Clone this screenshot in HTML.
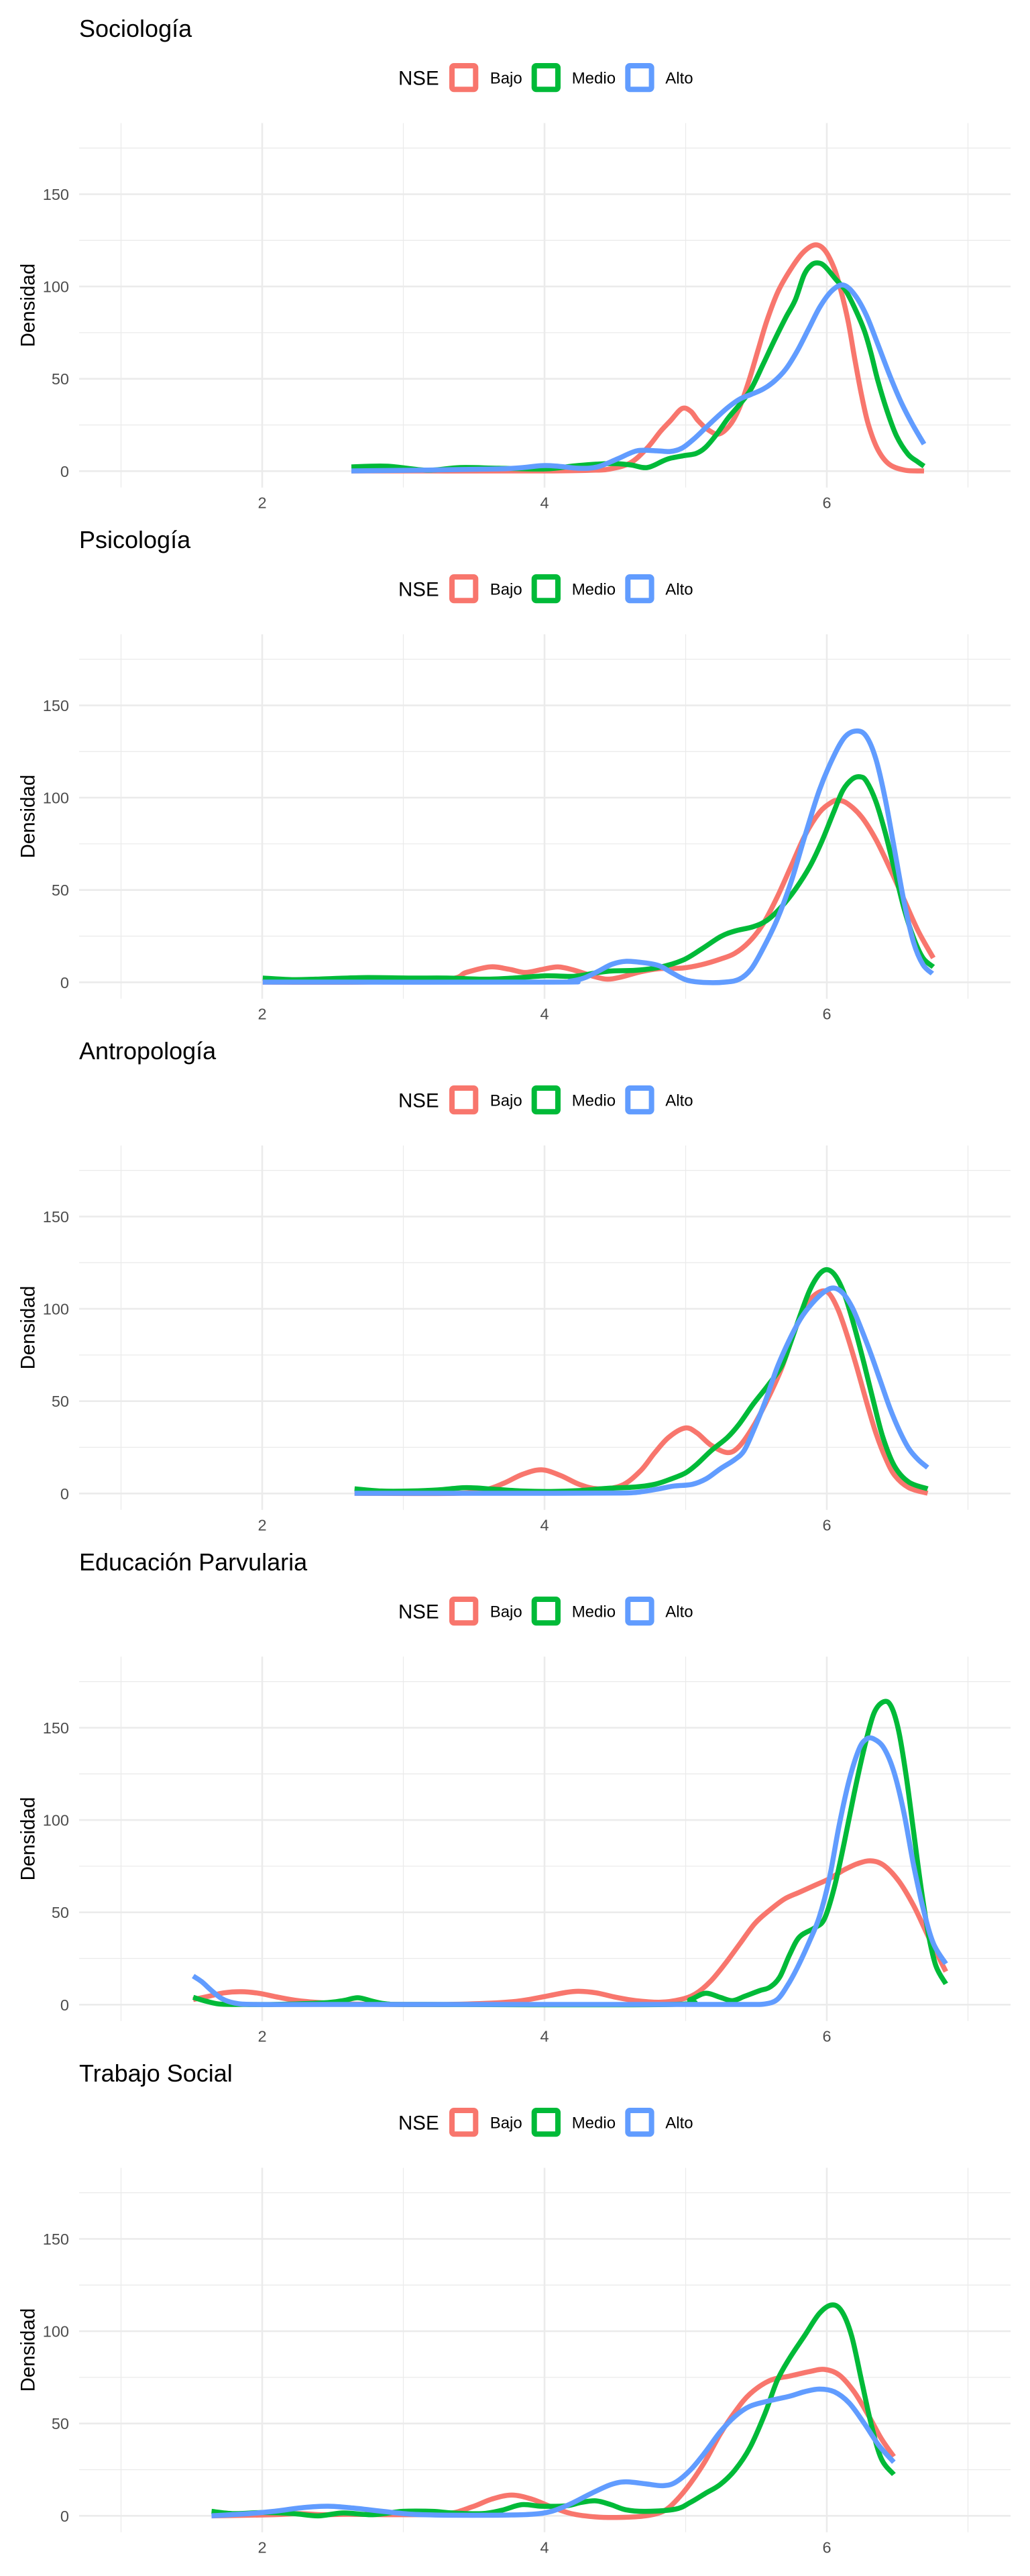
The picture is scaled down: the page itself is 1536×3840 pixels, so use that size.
<!DOCTYPE html>
<html>
<head>
<meta charset="utf-8">
<style>
html,body{margin:0;padding:0;background:#fff;}
svg{display:block;}
text{font-family:"Liberation Sans",Arial,sans-serif;}
.t{font-size:36px;fill:#000;}
.lt{font-size:29.5px;fill:#000;}
.ll{font-size:24px;fill:#000;}
.ay{font-size:23.5px;fill:#4D4D4D;text-anchor:end;}
.ax{font-size:23.5px;fill:#4D4D4D;text-anchor:middle;}
.at{font-size:29.5px;fill:#000;text-anchor:middle;}
.mn{stroke:#EBEBEB;stroke-width:1.3;}
.mj{stroke:#EBEBEB;stroke-width:2.6;}
.c{fill:none;stroke-width:7.5;stroke-linejoin:round;stroke-linecap:butt;}
.s{fill:none;stroke-width:7.5;stroke-linejoin:round;stroke-linecap:butt;vector-effect:non-scaling-stroke;}
.r{stroke:#F8766D;}
.g{stroke:#00BA38;}
.b{stroke:#619CFF;}
</style>
</head>
<body>
<svg width="1536" height="3840" viewBox="0 0 1536 3840" xmlns="http://www.w3.org/2000/svg">
<rect x="0" y="0" width="1536" height="3840" fill="#fff"/>

<!-- ============ PANEL 1 ============ -->
<g transform="translate(0,0)">
  <text class="t" x="118" y="55">Sociología</text>
  <text class="lt" x="594" y="126.5">NSE</text>
  <rect x="674" y="98" width="35.3" height="35.3" rx="3" fill="#fff" stroke="#F8766D" stroke-width="8"/>
  <text class="ll" x="730.7" y="124.3">Bajo</text>
  <rect x="796.7" y="98" width="35.3" height="35.3" rx="3" fill="#fff" stroke="#00BA38" stroke-width="8"/>
  <text class="ll" x="852.7" y="124.3">Medio</text>
  <rect x="936.3" y="98" width="35.3" height="35.3" rx="3" fill="#fff" stroke="#619CFF" stroke-width="8"/>
  <text class="ll" x="992.3" y="124.3">Alto</text>
  <line class="mn" x1="118" x2="1507" y1="633.5" y2="633.5"/>
  <line class="mn" x1="118" x2="1507" y1="495.9" y2="495.9"/>
  <line class="mn" x1="118" x2="1507" y1="358.3" y2="358.3"/>
  <line class="mn" x1="118" x2="1507" y1="220.7" y2="220.7"/>
  <line class="mn" x1="180.5" x2="180.5" y1="183.5" y2="726.7"/>
  <line class="mn" x1="601.5" x2="601.5" y1="183.5" y2="726.7"/>
  <line class="mn" x1="1022.5" x2="1022.5" y1="183.5" y2="726.7"/>
  <line class="mn" x1="1443.5" x2="1443.5" y1="183.5" y2="726.7"/>
  <line class="mj" x1="118" x2="1507" y1="702.3" y2="702.3"/>
  <line class="mj" x1="118" x2="1507" y1="564.7" y2="564.7"/>
  <line class="mj" x1="118" x2="1507" y1="427.1" y2="427.1"/>
  <line class="mj" x1="118" x2="1507" y1="289.5" y2="289.5"/>
  <line class="mj" x1="391" x2="391" y1="183.5" y2="726.7"/>
  <line class="mj" x1="812" x2="812" y1="183.5" y2="726.7"/>
  <line class="mj" x1="1233" x2="1233" y1="183.5" y2="726.7"/>
  <text class="ay" x="103" y="710.8">0</text>
  <text class="ay" x="103" y="573.2">50</text>
  <text class="ay" x="103" y="435.6">100</text>
  <text class="ay" x="103" y="298">150</text>
  <text class="ax" x="391" y="757.3">2</text>
  <text class="ax" x="812" y="757.3">4</text>
  <text class="ax" x="1233" y="757.3">6</text>
  <text class="at" transform="translate(51.5,455.1) rotate(-90)">Densidad</text>
</g>
<polyline class="c r" points="524,702 800,702 880,701 910,699 940,690 965,668 985,643 1000,627 1017,609 1030,613 1041,627 1055,640 1072,647 1089,633 1103,607 1117,567 1131,520 1144,477 1161,433 1182,397 1199,375 1216,365 1230,373 1244,400 1254,433 1265,480 1275,537 1285,590 1295,633 1309,670 1326,692 1350,701 1378,702"/>
<polyline class="c g" points="524,696 578,695 637,701 686,697 744,698 813,699 862,694 911,691 940,693 965,697 989,687 1000,683 1021,679 1038,676 1052,667 1069,647 1086,623 1103,603 1120,580 1138,543 1155,507 1172,473 1186,447 1199,410 1210,395 1220,392 1230,397 1247,417 1261,433 1275,460 1289,493 1299,527 1309,567 1323,613 1337,650 1354,677 1368,688 1378,695"/>
<polyline class="c b" points="524,702 744,699 813,694 862,698 891,696 921,684 950,672 979,672 1000,673 1017,668 1034,655 1052,638 1069,622 1086,607 1103,595 1120,588 1138,580 1155,568 1172,550 1189,523 1206,490 1223,457 1241,433 1258,425 1275,440 1292,470 1309,513 1327,560 1344,600 1361,633 1378,662"/>

<!-- ============ PANEL 2 ============ -->
<g transform="translate(0,762)">
  <text class="t" x="118" y="55">Psicología</text>
  <text class="lt" x="594" y="126.5">NSE</text>
  <rect x="674" y="98" width="35.3" height="35.3" rx="3" fill="#fff" stroke="#F8766D" stroke-width="8"/>
  <text class="ll" x="730.7" y="124.3">Bajo</text>
  <rect x="796.7" y="98" width="35.3" height="35.3" rx="3" fill="#fff" stroke="#00BA38" stroke-width="8"/>
  <text class="ll" x="852.7" y="124.3">Medio</text>
  <rect x="936.3" y="98" width="35.3" height="35.3" rx="3" fill="#fff" stroke="#619CFF" stroke-width="8"/>
  <text class="ll" x="992.3" y="124.3">Alto</text>
  <line class="mn" x1="118" x2="1507" y1="633.5" y2="633.5"/>
  <line class="mn" x1="118" x2="1507" y1="495.9" y2="495.9"/>
  <line class="mn" x1="118" x2="1507" y1="358.3" y2="358.3"/>
  <line class="mn" x1="118" x2="1507" y1="220.7" y2="220.7"/>
  <line class="mn" x1="180.5" x2="180.5" y1="183.5" y2="726.7"/>
  <line class="mn" x1="601.5" x2="601.5" y1="183.5" y2="726.7"/>
  <line class="mn" x1="1022.5" x2="1022.5" y1="183.5" y2="726.7"/>
  <line class="mn" x1="1443.5" x2="1443.5" y1="183.5" y2="726.7"/>
  <line class="mj" x1="118" x2="1507" y1="702.3" y2="702.3"/>
  <line class="mj" x1="118" x2="1507" y1="564.7" y2="564.7"/>
  <line class="mj" x1="118" x2="1507" y1="427.1" y2="427.1"/>
  <line class="mj" x1="118" x2="1507" y1="289.5" y2="289.5"/>
  <line class="mj" x1="391" x2="391" y1="183.5" y2="726.7"/>
  <line class="mj" x1="812" x2="812" y1="183.5" y2="726.7"/>
  <line class="mj" x1="1233" x2="1233" y1="183.5" y2="726.7"/>
  <text class="ay" x="103" y="710.8">0</text>
  <text class="ay" x="103" y="573.2">50</text>
  <text class="ay" x="103" y="435.6">100</text>
  <text class="ay" x="103" y="298">150</text>
  <text class="ax" x="391" y="757.3">2</text>
  <text class="ax" x="812" y="757.3">4</text>
  <text class="ax" x="1233" y="757.3">6</text>
  <text class="at" transform="translate(51.5,455.1) rotate(-90)">Densidad</text>
</g>
<g transform="translate(330,978) scale(0.70225,0.33333)">
<polyline class="s r" points="88,1458 300,1458 480,1445 520,1415 570,1390 610,1400 645,1415 680,1402 715,1390 750,1405 790,1432 820,1445 850,1435 890,1412 930,1398 980,1395 1020,1380 1060,1355 1090,1330 1120,1280 1150,1200 1180,1080 1210,940 1240,800 1270,700 1295,655 1310,645 1330,660 1360,720 1390,820 1420,950 1450,1090 1480,1230 1512,1350"/>
<polyline class="s g" points="88,1440 150,1447 200,1445 300,1438 400,1440 480,1440 560,1445 620,1440 690,1430 750,1432 800,1415 830,1408 880,1405 930,1392 980,1360 1020,1310 1060,1255 1090,1230 1130,1210 1160,1180 1190,1120 1220,1040 1250,940 1275,830 1300,700 1320,600 1340,550 1357,540 1370,560 1390,650 1410,790 1430,960 1450,1130 1470,1260 1490,1350 1512,1390"/>
<polyline class="s b" points="88,1458 700,1458 740,1454 770,1440 800,1410 830,1378 860,1365 900,1372 930,1385 960,1420 990,1450 1030,1460 1070,1458 1100,1445 1125,1400 1150,1310 1180,1180 1210,1010 1240,800 1270,600 1300,450 1325,360 1350,335 1370,360 1390,460 1410,640 1430,870 1450,1100 1470,1280 1490,1380 1510,1420"/>
</g>

<!-- ============ PANEL 3 ============ -->
<g transform="translate(0,1524)">
  <text class="t" x="118" y="55">Antropología</text>
  <text class="lt" x="594" y="126.5">NSE</text>
  <rect x="674" y="98" width="35.3" height="35.3" rx="3" fill="#fff" stroke="#F8766D" stroke-width="8"/>
  <text class="ll" x="730.7" y="124.3">Bajo</text>
  <rect x="796.7" y="98" width="35.3" height="35.3" rx="3" fill="#fff" stroke="#00BA38" stroke-width="8"/>
  <text class="ll" x="852.7" y="124.3">Medio</text>
  <rect x="936.3" y="98" width="35.3" height="35.3" rx="3" fill="#fff" stroke="#619CFF" stroke-width="8"/>
  <text class="ll" x="992.3" y="124.3">Alto</text>
  <line class="mn" x1="118" x2="1507" y1="633.5" y2="633.5"/>
  <line class="mn" x1="118" x2="1507" y1="495.9" y2="495.9"/>
  <line class="mn" x1="118" x2="1507" y1="358.3" y2="358.3"/>
  <line class="mn" x1="118" x2="1507" y1="220.7" y2="220.7"/>
  <line class="mn" x1="180.5" x2="180.5" y1="183.5" y2="726.7"/>
  <line class="mn" x1="601.5" x2="601.5" y1="183.5" y2="726.7"/>
  <line class="mn" x1="1022.5" x2="1022.5" y1="183.5" y2="726.7"/>
  <line class="mn" x1="1443.5" x2="1443.5" y1="183.5" y2="726.7"/>
  <line class="mj" x1="118" x2="1507" y1="702.3" y2="702.3"/>
  <line class="mj" x1="118" x2="1507" y1="564.7" y2="564.7"/>
  <line class="mj" x1="118" x2="1507" y1="427.1" y2="427.1"/>
  <line class="mj" x1="118" x2="1507" y1="289.5" y2="289.5"/>
  <line class="mj" x1="391" x2="391" y1="183.5" y2="726.7"/>
  <line class="mj" x1="812" x2="812" y1="183.5" y2="726.7"/>
  <line class="mj" x1="1233" x2="1233" y1="183.5" y2="726.7"/>
  <text class="ay" x="103" y="710.8">0</text>
  <text class="ay" x="103" y="573.2">50</text>
  <text class="ay" x="103" y="435.6">100</text>
  <text class="ay" x="103" y="298">150</text>
  <text class="ax" x="391" y="757.3">2</text>
  <text class="ax" x="812" y="757.3">4</text>
  <text class="ax" x="1233" y="757.3">6</text>
  <text class="at" transform="translate(51.5,455.1) rotate(-90)">Densidad</text>
</g>
<g transform="translate(330,1746) scale(0.70225,0.33333)">
<polyline class="s r" points="283,1440 500,1440 560,1425 600,1395 640,1355 680,1335 720,1360 760,1400 800,1420 850,1405 890,1340 920,1260 950,1190 985,1148 1010,1170 1040,1225 1075,1258 1100,1230 1130,1140 1160,1020 1190,880 1220,700 1245,590 1270,540 1290,545 1310,620 1330,740 1350,880 1370,1030 1390,1170 1410,1280 1430,1360 1460,1415 1500,1440"/>
<polyline class="s g" points="283,1420 340,1430 400,1430 460,1425 520,1415 580,1422 640,1430 700,1432 760,1428 820,1418 880,1412 920,1400 950,1380 985,1350 1010,1310 1040,1250 1075,1190 1100,1130 1130,1040 1160,960 1190,870 1210,760 1230,640 1250,530 1270,460 1287,440 1305,470 1325,560 1345,700 1365,860 1385,1030 1405,1190 1430,1320 1460,1390 1500,1420"/>
<polyline class="s b" points="283,1440 500,1440 700,1440 850,1439 890,1434 930,1420 960,1408 1000,1400 1030,1375 1060,1330 1090,1290 1110,1250 1130,1160 1155,1030 1180,880 1205,760 1230,660 1255,590 1280,540 1300,522 1320,545 1340,610 1360,710 1380,820 1400,940 1420,1060 1440,1160 1460,1240 1480,1290 1500,1325"/>
</g>

<!-- ============ PANEL 4 ============ -->
<g transform="translate(0,2286)">
  <text class="t" x="118" y="55">Educación Parvularia</text>
  <text class="lt" x="594" y="126.5">NSE</text>
  <rect x="674" y="98" width="35.3" height="35.3" rx="3" fill="#fff" stroke="#F8766D" stroke-width="8"/>
  <text class="ll" x="730.7" y="124.3">Bajo</text>
  <rect x="796.7" y="98" width="35.3" height="35.3" rx="3" fill="#fff" stroke="#00BA38" stroke-width="8"/>
  <text class="ll" x="852.7" y="124.3">Medio</text>
  <rect x="936.3" y="98" width="35.3" height="35.3" rx="3" fill="#fff" stroke="#619CFF" stroke-width="8"/>
  <text class="ll" x="992.3" y="124.3">Alto</text>
  <line class="mn" x1="118" x2="1507" y1="633.5" y2="633.5"/>
  <line class="mn" x1="118" x2="1507" y1="495.9" y2="495.9"/>
  <line class="mn" x1="118" x2="1507" y1="358.3" y2="358.3"/>
  <line class="mn" x1="118" x2="1507" y1="220.7" y2="220.7"/>
  <line class="mn" x1="180.5" x2="180.5" y1="183.5" y2="726.7"/>
  <line class="mn" x1="601.5" x2="601.5" y1="183.5" y2="726.7"/>
  <line class="mn" x1="1022.5" x2="1022.5" y1="183.5" y2="726.7"/>
  <line class="mn" x1="1443.5" x2="1443.5" y1="183.5" y2="726.7"/>
  <line class="mj" x1="118" x2="1507" y1="702.3" y2="702.3"/>
  <line class="mj" x1="118" x2="1507" y1="564.7" y2="564.7"/>
  <line class="mj" x1="118" x2="1507" y1="427.1" y2="427.1"/>
  <line class="mj" x1="118" x2="1507" y1="289.5" y2="289.5"/>
  <line class="mj" x1="391" x2="391" y1="183.5" y2="726.7"/>
  <line class="mj" x1="812" x2="812" y1="183.5" y2="726.7"/>
  <line class="mj" x1="1233" x2="1233" y1="183.5" y2="726.7"/>
  <text class="ay" x="103" y="710.8">0</text>
  <text class="ay" x="103" y="573.2">50</text>
  <text class="ay" x="103" y="435.6">100</text>
  <text class="ay" x="103" y="298">150</text>
  <text class="ax" x="391" y="757.3">2</text>
  <text class="ax" x="812" y="757.3">4</text>
  <text class="ax" x="1233" y="757.3">6</text>
  <text class="at" transform="translate(51.5,455.1) rotate(-90)">Densidad</text>
</g>
<g transform="translate(260,2514) scale(0.7399,0.33333)">
<polyline class="s r" points="38,1400 70,1385 100,1370 135,1365 170,1372 210,1390 250,1405 300,1415 350,1420 450,1422 550,1422 650,1415 700,1405 750,1385 790,1368 815,1363 850,1370 890,1390 930,1405 980,1412 1020,1400 1050,1375 1080,1320 1110,1240 1140,1150 1170,1060 1200,1000 1230,950 1260,920 1290,890 1320,860 1350,820 1380,790 1405,780 1430,800 1460,870 1490,980 1520,1120 1555,1275"/>
<polyline class="s g" points="38,1390 60,1405 90,1420 130,1422 200,1422 300,1415 340,1405 370,1392 400,1408 430,1420 500,1422 1000,1422 1040,1400 1070,1372 1100,1390 1125,1405 1150,1385 1180,1360 1200,1345 1220,1300 1240,1200 1260,1120 1290,1080 1310,1040 1330,900 1350,700 1370,480 1390,280 1410,120 1430,68 1445,90 1460,200 1475,400 1490,650 1505,900 1520,1110 1535,1250 1555,1330"/>
<polyline class="s b" points="38,1295 55,1320 75,1360 95,1395 120,1415 160,1422 300,1422 1000,1422 1150,1422 1190,1420 1215,1400 1235,1340 1255,1260 1280,1140 1300,1030 1320,860 1340,620 1360,420 1380,280 1395,235 1410,235 1430,275 1450,380 1470,560 1490,800 1510,1000 1530,1150 1555,1240"/>
</g>

<!-- ============ PANEL 5 ============ -->
<g transform="translate(0,3048)">
  <text class="t" x="118" y="55">Trabajo Social</text>
  <text class="lt" x="594" y="126.5">NSE</text>
  <rect x="674" y="98" width="35.3" height="35.3" rx="3" fill="#fff" stroke="#F8766D" stroke-width="8"/>
  <text class="ll" x="730.7" y="124.3">Bajo</text>
  <rect x="796.7" y="98" width="35.3" height="35.3" rx="3" fill="#fff" stroke="#00BA38" stroke-width="8"/>
  <text class="ll" x="852.7" y="124.3">Medio</text>
  <rect x="936.3" y="98" width="35.3" height="35.3" rx="3" fill="#fff" stroke="#619CFF" stroke-width="8"/>
  <text class="ll" x="992.3" y="124.3">Alto</text>
  <line class="mn" x1="118" x2="1507" y1="633.5" y2="633.5"/>
  <line class="mn" x1="118" x2="1507" y1="495.9" y2="495.9"/>
  <line class="mn" x1="118" x2="1507" y1="358.3" y2="358.3"/>
  <line class="mn" x1="118" x2="1507" y1="220.7" y2="220.7"/>
  <line class="mn" x1="180.5" x2="180.5" y1="183.5" y2="726.7"/>
  <line class="mn" x1="601.5" x2="601.5" y1="183.5" y2="726.7"/>
  <line class="mn" x1="1022.5" x2="1022.5" y1="183.5" y2="726.7"/>
  <line class="mn" x1="1443.5" x2="1443.5" y1="183.5" y2="726.7"/>
  <line class="mj" x1="118" x2="1507" y1="702.3" y2="702.3"/>
  <line class="mj" x1="118" x2="1507" y1="564.7" y2="564.7"/>
  <line class="mj" x1="118" x2="1507" y1="427.1" y2="427.1"/>
  <line class="mj" x1="118" x2="1507" y1="289.5" y2="289.5"/>
  <line class="mj" x1="391" x2="391" y1="183.5" y2="726.7"/>
  <line class="mj" x1="812" x2="812" y1="183.5" y2="726.7"/>
  <line class="mj" x1="1233" x2="1233" y1="183.5" y2="726.7"/>
  <text class="ay" x="103" y="710.8">0</text>
  <text class="ay" x="103" y="573.2">50</text>
  <text class="ay" x="103" y="435.6">100</text>
  <text class="ay" x="103" y="298">150</text>
  <text class="ax" x="391" y="757.3">2</text>
  <text class="ax" x="812" y="757.3">4</text>
  <text class="ax" x="1233" y="757.3">6</text>
  <text class="at" transform="translate(51.5,455.1) rotate(-90)">Densidad</text>
</g>
<g transform="translate(260,3282) scale(0.7399,0.33333)">
<polyline class="s r" points="75,1405 200,1400 250,1395 300,1400 350,1398 450,1400 550,1395 600,1365 640,1330 680,1312 720,1330 760,1365 800,1395 850,1410 900,1412 950,1405 985,1385 1010,1340 1040,1260 1070,1160 1100,1040 1130,940 1160,860 1200,800 1240,780 1280,760 1310,750 1340,775 1370,850 1400,960 1425,1060 1450,1140"/>
<polyline class="s g" points="75,1385 120,1395 180,1390 240,1395 290,1405 340,1392 400,1400 460,1385 520,1385 560,1392 620,1395 660,1380 700,1355 740,1362 790,1360 820,1345 850,1338 880,1355 910,1378 950,1385 1010,1375 1040,1345 1070,1305 1100,1265 1130,1200 1160,1100 1190,950 1215,800 1240,700 1270,600 1300,500 1325,462 1345,490 1365,600 1385,800 1405,1000 1425,1150 1450,1220"/>
<polyline class="s b" points="75,1405 150,1395 200,1385 260,1368 310,1362 360,1370 420,1385 480,1398 550,1402 650,1402 720,1398 760,1385 800,1350 840,1305 880,1265 910,1253 950,1262 985,1270 1010,1255 1040,1200 1070,1120 1100,1030 1130,960 1160,915 1200,890 1240,870 1270,850 1300,838 1330,850 1360,900 1390,990 1420,1090 1450,1165"/>
</g>
</svg>
<script>
(function(){
  var NS="http://www.w3.org/2000/svg";
  var pls=document.querySelectorAll("polyline");
  for(var k=0;k<pls.length;k++){
    var pl=pls[k];
    var raw=pl.getAttribute("points").trim().split(/\s+/);
    var p=[];
    for(var i=0;i<raw.length;i++){var xy=raw[i].split(",");p.push([parseFloat(xy[0]),parseFloat(xy[1])]);}
    if(p.length<3)continue;
    var d="M"+p[0][0]+","+p[0][1];
    for(var i=0;i<p.length-1;i++){
      var p0=p[i>0?i-1:0],p1=p[i],p2=p[i+1],p3=p[i+2<p.length?i+2:p.length-1];
      var c1x=p1[0]+(p2[0]-p0[0])/6,c1y=p1[1]+(p2[1]-p0[1])/6;
      var c2x=p2[0]-(p3[0]-p1[0])/6,c2y=p2[1]-(p3[1]-p1[1])/6;
      d+=" C"+c1x.toFixed(2)+","+c1y.toFixed(2)+" "+c2x.toFixed(2)+","+c2y.toFixed(2)+" "+p2[0]+","+p2[1];
    }
    var path=document.createElementNS(NS,"path");
    path.setAttribute("d",d);
    path.setAttribute("class",pl.getAttribute("class"));
    pl.parentNode.replaceChild(path,pl);
  }
})();
</script>
</body>
</html>
